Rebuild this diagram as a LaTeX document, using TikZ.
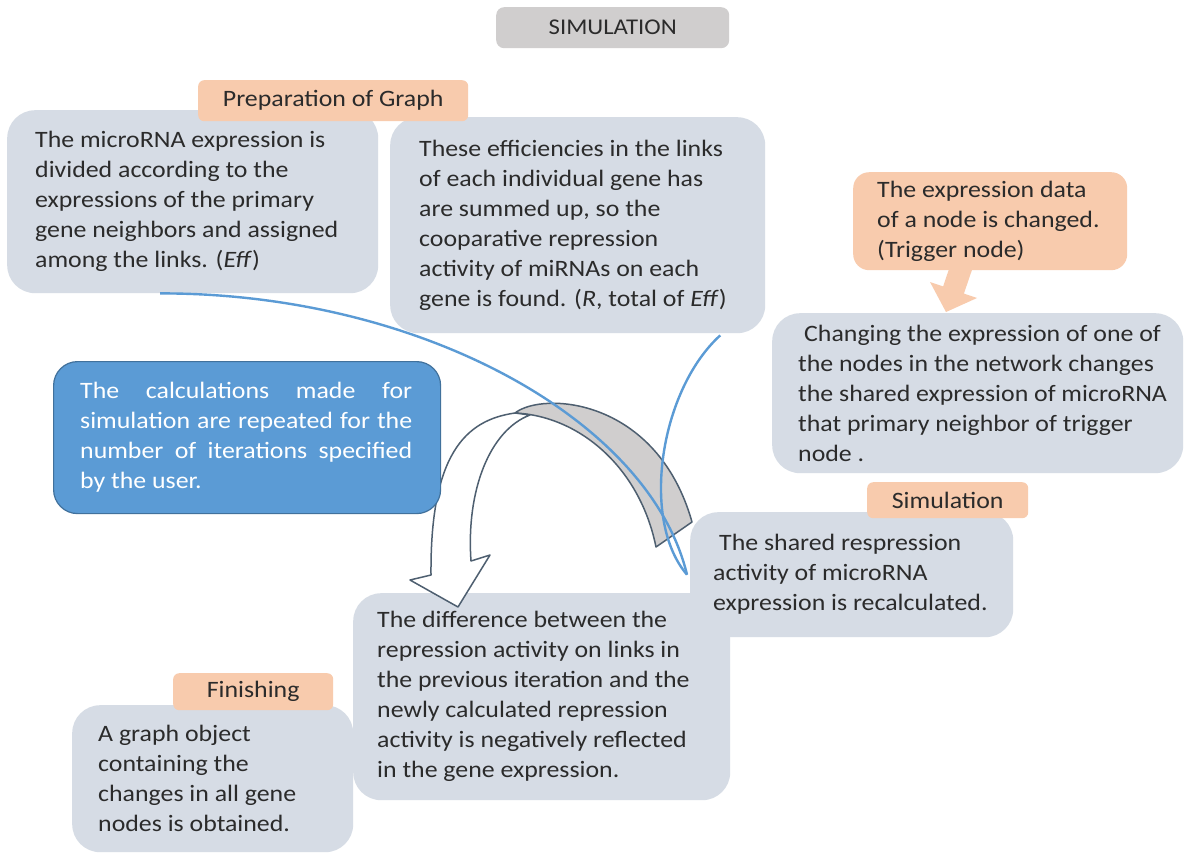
\documentclass[tikz,border=0pt]{standalone}
\usepackage{fontspec}
\setmainfont{Carlito}[FakeStretch=1.1]
\usetikzlibrary{calc}
\definecolor{boxgray}{HTML}{D6DCE5}
\definecolor{tabor}{HTML}{F8CBAD}
\definecolor{titlegray}{HTML}{D0CECE}
\definecolor{bluefill}{HTML}{5B9BD5}
\definecolor{blueedge}{HTML}{41719C}
\definecolor{txt}{HTML}{2B2B2B}
\definecolor{arrowedge}{HTML}{4E5F70}
\definecolor{bandgray}{HTML}{D0CECE}
\newcommand\jline[1]{\makebox[332pt][s]{#1}}
\begin{document}
\begin{tikzpicture}[x=1pt,y=-1pt,
  card/.style={fill=boxgray, draw=none, rounded corners=28pt, anchor=north west, inner sep=0pt},
  tabbox/.style={fill=tabor, draw=none, rounded corners=6pt, anchor=north west, inner sep=0pt, text=txt, font=\fontsize{23.5}{30}\selectfont},
  txtnode/.style={anchor=west, inner sep=0pt, align=left, text=txt, font=\fontsize{23.5}{30}\selectfont},
  band/.style={draw=arrowedge, line width=1.5pt, line join=round},
  conn/.style={draw=bluefill, line width=2.4pt}]
\useasboundingbox[fill=white] (0,0) rectangle (1196,854);

% title
\node[fill=titlegray, rounded corners=8pt, anchor=north west, inner sep=0pt,
      minimum width=233pt, minimum height=41pt, text=txt,
      font=\fontsize{22.5}{26}\selectfont] (title) at (496,7) {SIMULATION};

% preparation cards
\node[card, minimum width=371pt, minimum height=183pt] (box1) at (7,110) {};
\node[card, minimum width=375pt, minimum height=216pt] (box2) at (390,117) {};

% trigger arrow and box
\fill[tabor] (951.6,261.4) -- (943.1,286.4) -- (930,282) -- (946,312) -- (977,298) -- (963.9,293.6) -- (972.4,268.6) -- cycle;
\node[fill=tabor, rounded corners=16pt, anchor=north west, inner sep=0pt,
      minimum width=274pt, minimum height=98pt] (trig) at (853,172) {};
\node[card, minimum width=411pt, minimum height=160pt] (box3) at (772,313) {};

% lower cards
\node[card, minimum width=281pt, minimum height=147pt] (box6) at (72,705) {};
\node[card, minimum width=377pt, minimum height=207pt] (box5) at (353,593) {};

% curved arrow: shaded back part
\filldraw[band, fill=bandgray]
  (515,413) .. controls (543,391) and (657,398) .. (692,522)
  -- (656,547)
  .. controls (640,468) and (580,416) .. (515,413)
  -- cycle;
% curved arrow: front part with head
\filldraw[band, fill=white]
  (515,413) .. controls (465,420) and (430,455) .. (431,575)
  -- (410,580) -- (458,607) -- (490,555) -- (471,561)
  .. controls (466,490) and (490,430) .. (530,415)
  -- cycle;

% blue box
\node[fill=bluefill, draw=blueedge, line width=1.2pt, rounded corners=24pt, anchor=north west,
      inner sep=0pt, minimum width=387pt, minimum height=152pt] (blue) at (53,361) {};

% simulation card
\node[card, minimum width=323pt, minimum height=125pt] (box4) at (690,512) {};

% connectors
\coordinate (a1) at ([xshift=-32.5pt]box1.south);
\coordinate (b2) at ([xshift=142.5pt,yshift=-2pt]box2.south);
\coordinate (e4) at ([xshift=-3pt]box4.west);
\draw[conn] (a1) .. controls (420,293) and (650,420) .. (e4);
\draw[conn] (b2) .. controls (660,390) and (640,520) .. (e4);

% tabs
\node[tabbox, minimum width=270pt, minimum height=41pt] (tabprep) at (198,80) {Preparation of Graph};
\node[tabbox, minimum width=161pt, minimum height=36pt] (tabsim) at (867,482) {Simulation};
\node[tabbox, minimum width=160pt, minimum height=37pt] (tabfin) at (173,673) {Finishing};

% texts
\node[txtnode] (t1) at ([xshift=28pt]box1.west) {The microRNA expression is\\divided according to the\\expressions of the primary\\gene neighbors and assigned\\among the links. (\textit{Eff})};
\node[txtnode] (t2) at ([xshift=29pt]box2.west) {These efficiencies in the links\\of each individual gene has\\are summed up, so the\\cooparative repression\\activity of miRNAs on each\\gene is found. (\textit{R}, total of \textit{Eff})};
\node[txtnode] (tt) at ([xshift=24pt]trig.west) {The expression data\\of a node is changed.\\(Trigger node)};
\node[txtnode] (t3) at ([xshift=26pt]box3.west) {\hspace*{6pt}Changing the expression of one of\\the nodes in the network changes\\the shared expression of microRNA\\that primary neighbor of trigger\\node .};
\node[txtnode, text=white] (tb) at ([xshift=27pt]blue.west) {\jline{The calculations made for}\\\jline{simulation are repeated for the}\\\jline{number of iterations specified}\\by the user.};
\node[txtnode] (t4) at ([xshift=23pt]box4.west) {\hspace*{6pt}The shared respression\\activity of microRNA\\expression is recalculated.};
\node[txtnode] (t5) at ([xshift=24pt]box5.west) {The difference between the\\repression activity on links in\\the previous iteration and the\\newly calculated repression\\activity is negatively reflected\\in the gene expression.};
\node[txtnode] (t6) at ([xshift=26pt]box6.west) {A graph object\\containing the\\changes in all gene\\nodes is obtained.};
\end{tikzpicture}
\end{document}
